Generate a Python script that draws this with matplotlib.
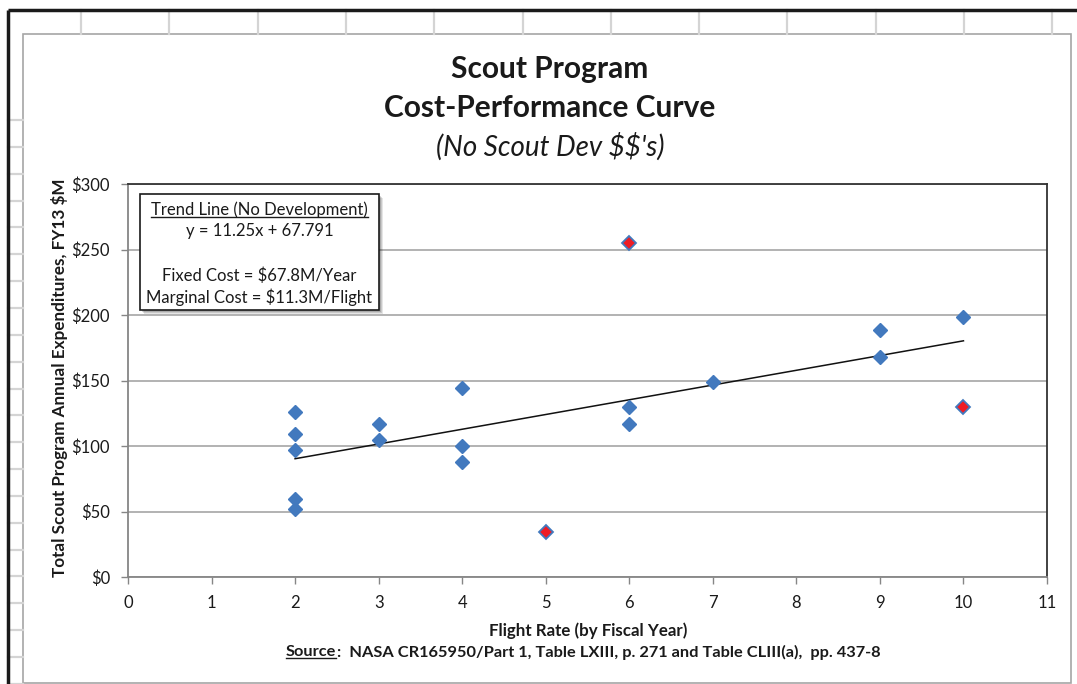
import matplotlib
matplotlib.use("Agg")
import matplotlib.pyplot as plt
from matplotlib.patches import Rectangle
from matplotlib.ticker import FuncFormatter
import numpy as np

plt.rcParams['font.family'] = ['Lato', 'DejaVu Sans']

# ---- data ----
fit_x = [2, 2, 2, 2, 2, 3, 3, 4, 4, 4, 6, 6, 7, 9, 9, 10]
fit_y = [126, 109.5, 97.3, 59.5, 51.8, 116.6, 104.6, 144.3, 100.3, 87.9,
         129.8, 116.6, 148.6, 188.5, 168.1, 198.6]
out_x = [5, 6, 10]
out_y = [34.3, 255.3, 129.8]
trend_slope = 11.25
trend_intercept = 67.791
trend_range = [2, 10]
x_ticks = list(range(0, 12))
y_ticks = [0, 50, 100, 150, 200, 250, 300]

W, H = 1077, 684
fig = plt.figure(figsize=(W / 100, H / 100), dpi=100)
fig.patch.set_facecolor('white')

# background (spreadsheet) layer in pixel coords
bg = fig.add_axes([0, 0, 1, 1], zorder=0)
bg.set_xlim(0, W)
bg.set_ylim(H, 0)
bg.axis('off')
for k in range(12):
    xc = 81 + 88.3 * k
    bg.plot([xc, xc], [10, 34], color='#D4D4D4', lw=1.6)
yr = 120
while yr < H:
    bg.plot([8, 23], [yr, yr], color='#D4D4D4', lw=1.6)
    yr += 26.85
bg.plot([8, W], [10, 10], color='#1A1A1A', lw=2.5, solid_capstyle='butt')
bg.plot([8, 8], [10, H], color='#1A1A1A', lw=2.5, solid_capstyle='butt')
bg.add_patch(Rectangle((23, 34), 1048, 649, facecolor='white',
                       edgecolor='#A6A6A6', lw=1.2))

# main axes
L, R, T, B = 128, 1047, 184, 577
ax = fig.add_axes([L / W, 1 - B / H, (R - L) / W, (B - T) / H], zorder=2)
ax.set_facecolor('none')
ax.set_xlim(0, 11)
ax.set_ylim(0, 300)
ax.set_xticks(x_ticks)
ax.set_yticks(y_ticks)
ax.yaxis.set_major_formatter(FuncFormatter(lambda v, p: r'\$%d' % v))
ax.tick_params(axis='both', direction='out', length=5, width=1,
               color='#868686', labelsize=12, labelcolor='#1A1A1A')
ax.tick_params(axis='x', pad=8)
ax.tick_params(axis='y', pad=8)
ax.grid(axis='y', color='#A6A6A6', lw=1.2)
ax.set_axisbelow(True)
for s in ['left', 'bottom']:
    ax.spines[s].set_color('#868686')
    ax.spines[s].set_linewidth(1.3)
for s in ['top', 'right']:
    ax.spines[s].set_color('#333333')
    ax.spines[s].set_linewidth(1.3)

tx = np.array(trend_range, dtype=float)
ax.plot(tx, trend_slope * tx + trend_intercept, color='#111111', lw=1.1, zorder=3)
ax.plot(fit_x, fit_y, linestyle='none', marker='D', ms=7.6,
        markerfacecolor='#4279BE', markeredgecolor='#4279BE', zorder=4)
ax.plot(out_x, out_y, linestyle='none', marker='D', ms=7.0,
        markerfacecolor='#EE1C25', markeredgecolor='#4279BE', mew=1.3, zorder=4)

# overlay in pixel coords
ov = fig.add_axes([0, 0, 1, 1], zorder=5)
ov.set_xlim(0, W)
ov.set_ylim(H, 0)
ov.axis('off')
ov.patch.set_alpha(0)

# titles
ov.text(550, 69, 'Scout Program', ha='center', va='center', fontsize=21.5,
        fontweight='bold', color='#1A1A1A')
ov.text(550, 108, 'Cost-Performance Curve', ha='center', va='center',
        fontsize=21.5, fontweight='bold', color='#1A1A1A')
ov.text(550, 147, "(No Scout Dev $$'s)", ha='center', va='center',
        fontsize=20, style='italic', color='#1A1A1A', parse_math=False)

# axis labels
ov.text(60, 378, 'Total Scout Program Annual Expenditures, FY13 $M',
        rotation=90, ha='center', va='center', fontsize=12.3,
        fontweight='bold', color='#1A1A1A', parse_math=False)
ov.text(588, 631, 'Flight Rate (by Fiscal Year)', ha='center', va='center',
        fontsize=12.2, fontweight='bold', color='#1A1A1A')
src1 = ov.text(286, 652, 'Source', ha='left', va='center', fontsize=11.8,
               fontweight='bold', color='#1A1A1A')

# annotation box with shadow
bx0, by0, bx1, by1 = 140, 194, 379, 310
for i, a in enumerate([0.10, 0.12, 0.15]):
    off = 4 - i
    ov.add_patch(Rectangle((bx0 + off, by0 + off), bx1 - bx0, by1 - by0,
                           facecolor='#000000', alpha=a, lw=0, zorder=1))
ov.add_patch(Rectangle((bx0, by0), bx1 - bx0, by1 - by0, facecolor='white',
                       edgecolor='#1A1A1A', lw=1.2, zorder=2))
cx = (bx0 + bx1) / 2
t1 = ov.text(cx, 210, 'Trend Line (No Development)', ha='center', va='center',
             fontsize=12, color='#1A1A1A', zorder=3)
ov.text(cx, 231, 'y = 11.25x + 67.791', ha='center', va='center',
        fontsize=12, color='#1A1A1A', zorder=3)
ov.text(cx, 276, 'Fixed Cost = $67.8M/Year', ha='center', va='center',
        fontsize=12, color='#1A1A1A', zorder=3, parse_math=False)
ov.text(cx, 297, 'Marginal Cost = $11.3M/Flight', ha='center', va='center',
        fontsize=12, color='#1A1A1A', zorder=3, parse_math=False)

# underlines and source remainder
fig.canvas.draw()
r = fig.canvas.get_renderer()
inv = ov.transData.inverted()
src_right = None
for t, dy in [(t1, 1.5), (src1, 1.5)]:
    bb = t.get_window_extent(renderer=r)
    (x0, y0), (x1, y1) = inv.transform([[bb.x0, bb.y0], [bb.x1, bb.y1]])
    yb = max(y0, y1) - dy
    ov.plot([x0, x1], [yb, yb], color='#1A1A1A', lw=1.0, zorder=3)
    if t is src1:
        src_right = x1
ov.text(src_right + 0.5, 652,
        ':  NASA CR165950/Part 1, Table LXIII, p. 271 and Table CLIII(a),  pp. 437-8',
        ha='left', va='center', fontsize=11.8, fontweight='bold',
        color='#1A1A1A', parse_math=False)

fig.savefig('out.png', dpi=100, facecolor='white')
